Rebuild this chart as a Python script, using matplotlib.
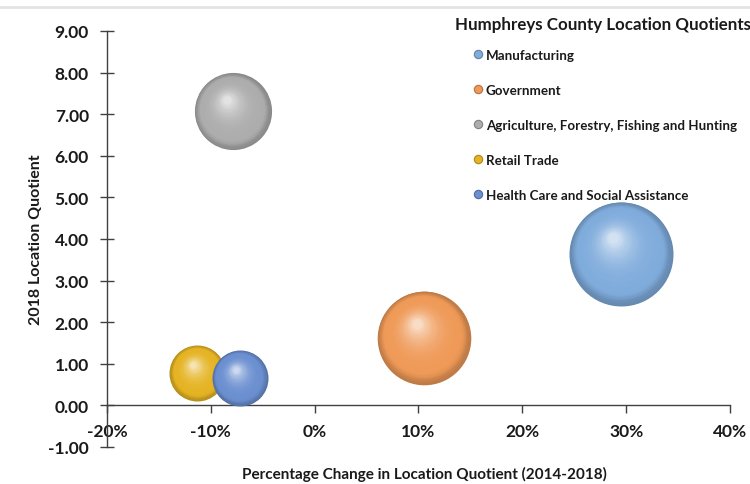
import numpy as np
import matplotlib
matplotlib.use('Agg')
import matplotlib.pyplot as plt
import matplotlib.colors as mcolors
import matplotlib.transforms as mtransforms
from matplotlib.lines import Line2D
from matplotlib.ticker import FuncFormatter

plt.rcParams['font.family'] = ['Lato', 'DejaVu Sans']
plt.rcParams['font.weight'] = 'bold'

# 数据
industries = ['Manufacturing', 'Government',
              'Agriculture, Forestry, Fishing and Hunting',
              'Retail Trade', 'Health Care and Social Assistance']
pct_change = [29.5, 10.5, -7.9, -11.3, -7.2]      # %
lq_2018 = [3.65, 1.63, 7.07, 0.78, 0.66]
bubble_size = [100, 81, 55, 29, 29]              # 相对大小
colors = ['#80ACDC', '#EF9A58', '#ADADAD', '#E5B424', '#6B8FD0']

x_ticks = [-20, -10, 0, 10, 20, 30, 40]
y_ticks = [-1, 0, 1, 2, 3, 4, 5, 6, 7, 8, 9]

W, H, DPI = 750, 485, 100
fig = plt.figure(figsize=(W / DPI, H / DPI), dpi=DPI)
ax = fig.add_axes([107 / W, 1 - 448 / H, (730 - 107) / W, (448 - 32) / H])
ax.set_xlim(-20, 40)
ax.set_ylim(-1, 9)

# 坐标轴样式
for s in ['top', 'right']:
    ax.spines[s].set_visible(False)
ax.spines['bottom'].set_position(('data', 0))
ax.spines['left'].set_position(('data', -20))
for s in ['bottom', 'left']:
    ax.spines[s].set_color('#404040')
    ax.spines[s].set_linewidth(1.0)
ax.set_xticks(x_ticks)
ax.set_yticks(y_ticks)
ax.xaxis.set_major_formatter(FuncFormatter(lambda v, p: f'{v:.0f}%'))
ax.yaxis.set_major_formatter(FuncFormatter(lambda v, p: f'{v:.2f}'))
ax.tick_params(axis='x', direction='out', length=6, width=1, color='#404040',
               labelsize=12.5, pad=7, labelcolor='#1a1a1a')
ax.tick_params(axis='y', direction='inout', length=10, width=1, color='#404040',
               labelsize=12.5, pad=8, labelcolor='#1a1a1a')
ax.set_facecolor('none')

ax.set_xlabel('Percentage Change in Location Quotient (2014-2018)',
              fontsize=11, fontweight='bold', color='#1a1a1a', labelpad=0)
ax.xaxis.set_label_coords(0.51, -0.045, transform=ax.transAxes)
ax.set_ylabel('2018 Location Quotient', fontsize=11.5, fontweight='bold',
              color='#1a1a1a')
ax.yaxis.set_label_coords(-0.102, 0.5)


def shade(base, t):
    base = np.array(mcolors.to_rgb(base))
    dark = base * 0.8
    if t < 0.2:
        u = t / 0.2
        u = u * u * (3 - 2 * u)
        return dark * (1 - u) + base * u
    u = ((t - 0.2) / 0.8) ** 2.4
    return base * (1 - 0.65 * u) + np.ones(3) * 0.65 * u


def draw_sphere(x, y, r_pt, color, z):
    n = 45
    hx, hy = -0.15 * r_pt, 0.3 * r_pt   # 高光位置
    for i in range(n):
        t = i / (n - 1)
        rad = r_pt * (1 - 0.9 * t)
        tr = mtransforms.offset_copy(ax.transData, fig=fig, x=hx * t, y=hy * t,
                                     units='points')
        ax.scatter([x], [y], s=(2 * rad) ** 2, color=shade(color, t),
                   linewidths=0, transform=tr, zorder=z + i * 0.001,
                   clip_on=False)


# Excel: 最大气泡直径 = 绘图区短边的 25%
plot_h_px = 448 - 32
max_r_pt = 0.25 * plot_h_px / 2 * 72 / DPI
max_size = max(bubble_size)
order = [2, 0, 1, 3, 4]
for k, i in enumerate(order):
    r = max_r_pt * np.sqrt(bubble_size[i] / max_size)
    draw_sphere(pct_change[i], lq_2018[i], r, colors[i], 3 + k)

# 图例
fig.text(455 / W, 1 - 25 / H, 'Humphreys County Location Quotients',
         fontsize=12.2, fontweight='bold', color='#1a1a1a', va='center')
handles = [Line2D([], [], linestyle='none', marker='o', markersize=6,
                  markerfacecolor=c,
                  markeredgecolor=tuple(np.array(mcolors.to_rgb(c)) * 0.75),
                  markeredgewidth=0.8) for c in colors]
leg = fig.legend(handles, industries, loc='upper left',
                 bbox_to_anchor=(474 / W, 1 - 50 / H), frameon=False,
                 fontsize=9.6, labelspacing=1.72, handlelength=0.6,
                 handletextpad=0.3, borderpad=0, borderaxespad=0)
for t in leg.get_texts():
    t.set_fontweight('bold')
    t.set_color('#1a1a1a')

# 顶部浅灰边线
fig.add_artist(Line2D([0, 1], [1 - 8 / H, 1 - 8 / H], color='#E3E3E3',
                      linewidth=2, transform=fig.transFigure))

fig.savefig('out.png', dpi=DPI)
